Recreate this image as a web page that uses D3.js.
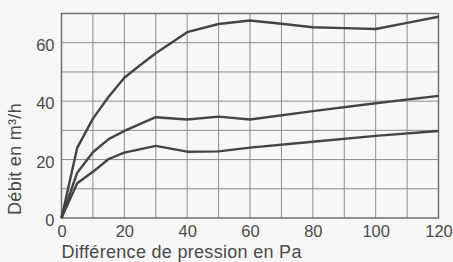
<!DOCTYPE html>
<html>
<head>
<meta charset="utf-8">
<script src="https://cdn.jsdelivr.net/npm/d3@7"></script>
<style>
  body { margin: 0; background: #f7f7f7; }
  svg { display: block; font-family: "Liberation Sans", Arial, sans-serif; }
</style>
</head>
<body>
<svg width="453" height="262"></svg>
<script>
"use strict";
const pressure = [0, 5, 10, 15, 20, 25, 30, 35, 40, 50, 60, 70, 80, 90, 100, 110, 120];
const highFlow = [0, 24, 34, 41.5, 48, 52.3, 56.4, 60, 63.6, 66.4, 67.6, 66.5, 65.3, 65, 64.7, 66.8, 68.9];
const midPressure = [0, 5, 10, 15, 20, 30, 40, 50, 60, 80, 100, 120];
const midFlow = [0, 15.5, 22.5, 27, 29.8, 34.5, 33.7, 34.7, 33.7, 36.6, 39.3, 41.8];
const lowFlow = [0, 11.9, 15.8, 20.2, 22.4, 24.7, 22.7, 22.8, 24.1, 26.1, 28.1, 29.8];
const xTicks = [0, 20, 40, 60, 80, 100, 120];
const yTicks = [0, 20, 40, 60];

const svg = d3.select("svg");
const x = d3.scaleLinear().domain([0, 120]).range([61.5, 438.5]);
const y = d3.scaleLinear().domain([0, 70]).range([218, 13.5]);

const grid = svg.append("g").attr("class", "grid");
grid.selectAll("line.v")
    .data(d3.range(10, 120, 10))
    .enter()
    .append("line")
    .attr("x1", d => x(d)).attr("x2", d => x(d))
    .attr("y1", y(0)).attr("y2", y(70))
    .style("stroke", "#8c8c8c")
    .style("stroke-width", 1);
grid.selectAll("line.h")
    .data(d3.range(10, 70, 10))
    .enter()
    .append("line")
    .attr("x1", x(0)).attr("x2", x(120))
    .attr("y1", d => y(d)).attr("y2", d => y(d))
    .style("stroke", "#8c8c8c")
    .style("stroke-width", 1);

svg.append("rect")
    .attr("x", x(0)).attr("y", y(70))
    .attr("width", x(120) - x(0)).attr("height", y(0) - y(70))
    .style("fill", "none")
    .style("stroke", "#707070")
    .style("stroke-width", 1.5);

const line = d3.line().x(d => x(d[0])).y(d => y(d[1]));
const series = [
    d3.zip(pressure, highFlow),
    d3.zip(midPressure, midFlow),
    d3.zip(midPressure, lowFlow)
];
svg.append("g")
    .selectAll("path")
    .data(series)
    .enter()
    .append("path")
    .attr("d", line)
    .style("fill", "none")
    .style("stroke", "#444")
    .style("stroke-width", 2.4)
    .style("stroke-linejoin", "round");

const xAxis = svg.append("g")
    .attr("transform", `translate(0, ${y(0)})`)
    .call(d3.axisBottom(x).tickValues(xTicks).tickSize(0).tickPadding(6));
const yAxis = svg.append("g")
    .attr("transform", `translate(${x(0)}, 0)`)
    .call(d3.axisLeft(y).tickValues(yTicks).tickSize(0).tickPadding(7));
[xAxis, yAxis].forEach(a => {
    a.select(".domain").remove();
    a.selectAll("text")
        .style("font-size", "16.5px")
        .style("fill", "#4a4a4a")
        .style("font-family", "Liberation Sans, Arial, sans-serif");
});
xAxis.selectAll("text").attr("dy", null).attr("y", 19);
yAxis.selectAll("text").attr("dy", "0.45em");

svg.append("text")
    .attr("x", x(0))
    .attr("y", 258)
    .style("font-size", "18px")
    .style("letter-spacing", "0.3px")
    .style("fill", "#4a4a4a")
    .text("Différence de pression en Pa");

svg.append("text")
    .attr("transform", `translate(21, 159) rotate(-90)`)
    .attr("text-anchor", "middle")
    .style("font-size", "18px")
    .style("letter-spacing", "0.3px")
    .style("fill", "#4a4a4a")
    .text("Débit en m³/h");
</script>
</body>
</html>
